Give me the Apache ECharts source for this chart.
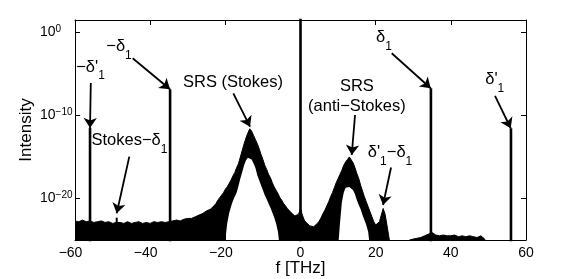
<!DOCTYPE html>
<html><head><meta charset="utf-8">
<script src="https://cdn.jsdelivr.net/npm/echarts@6/dist/echarts.min.js"></script>
<style>html,body{margin:0;padding:0;background:#fff}#c{width:581px;height:279px}</style>
</head><body><div id="c"></div>
<script>
const FONT = '"Liberation Sans", Arial, Helvetica, sans-serif';

// axis ticks
const xTicks = [-60, -40, -20, 0, 20, 40, 60];
const yTicks = [1e-20, 1e-10, 1];

// upper envelope of the (noisy, filled) spectrum
const envFreq = [-60,-59,-58,-57,-56,-55,-54,-53,-52,-51,-50,-49,-48,-47,-46,-45,-44,-43,-42,-41,-40,-39,-38,-37,-36,-35,-34,-33,-32,-31,-30,-29,-28,-27,-26,-25,-24,-23,-22.5,-22,-21.5,-21,-20.5,-20,-19.5,-19,-18.5,-18,-17.5,-17,-16.5,-16,-15.5,-15,-14.5,-14,-13.5,-13.3,-13,-12.5,-12,-11.5,-11,-10.5,-10,-9.5,-9,-8.5,-8,-7.5,-7,-6.5,-6,-5.5,-5,-4.5,-4,-3.5,-3,-2.5,-2,-1.5,-1,-0.5,0,0.5,1,1.5,2,2.5,3,3.5,4,4.5,5,5.5,6,6.5,7,7.5,8,8.5,9,9.5,10,10.5,11,11.5,12,12.5,13,13.4,14,14.5,15,15.5,16,16.5,17,17.5,18,18.5,19,19.5,20,20.5,21,21.5,22,22.5,23,23.5,24,28.5,29,30,31,32,33,34,35,35.5,36,37,38,39,40,41,42,43,44,45,46,47,48,49,49.5,60];
const envUpper = [2.0e-23,1.6e-23,2.5e-23,1.6e-23,2.0e-23,1.3e-23,1.6e-23,2.0e-23,1.3e-23,1.6e-23,1.0e-23,1.3e-23,1.3e-23,1.0e-23,1.6e-23,1.0e-23,1.3e-23,1.6e-23,1.0e-23,1.3e-23,1.0e-23,1.6e-23,1.3e-23,1.6e-23,1.3e-23,1.6e-23,2.0e-23,2.5e-23,2.0e-23,3.2e-23,4.0e-23,4.0e-23,6.3e-23,1.0e-22,1.6e-22,3.2e-22,5.0e-22,1.3e-21,2.5e-21,6.3e-21,1.0e-20,2.5e-20,5.0e-20,1.3e-19,2.5e-19,6.3e-19,1.6e-18,5.0e-18,1.3e-17,5.0e-17,1.6e-16,1.0e-15,6.3e-15,4.0e-14,2.0e-13,7.9e-13,2.5e-12,4.0e-12,1.3e-12,4.0e-13,1.3e-13,4.0e-14,1.0e-14,2.0e-15,5.0e-16,1.0e-16,3.2e-17,7.9e-18,3.2e-18,7.9e-19,2.5e-19,1.0e-19,4.0e-20,1.3e-20,6.3e-21,2.5e-21,1.3e-21,6.3e-22,4.0e-22,2.0e-22,1.3e-22,7.9e-23,6.3e-23,1.3e-22,6.3e-22,1.0e-22,2.5e-23,1.3e-23,7.9e-24,5.0e-24,5.0e-24,4.0e-24,6.3e-24,1.0e-23,2.0e-23,5.0e-23,1.6e-22,4.0e-22,1.3e-21,4.0e-21,1.6e-20,5.0e-20,2.0e-19,7.9e-19,2.5e-18,7.9e-18,2.5e-17,1.0e-16,2.5e-16,5.0e-16,1.0e-15,1.3e-15,2.0e-16,5.0e-17,1.0e-17,2.5e-18,4.0e-19,7.9e-20,1.6e-20,4.0e-21,1.0e-21,2.5e-22,6.3e-23,1.6e-23,6.3e-24,5.0e-24,1.6e-23,1.0e-22,6.3e-22,1.3e-22,6.3e-24,2.5e-25,1e-26,1e-26,1.0e-25,1.3e-25,1.6e-25,2.0e-25,3.2e-25,5.0e-25,7.9e-25,5.0e-25,4.0e-25,3.2e-25,4.0e-25,3.2e-25,3.2e-25,4.0e-25,2.5e-25,3.2e-25,2.5e-25,3.2e-25,2.5e-25,2.0e-25,3.2e-25,1.3e-25,1e-26,1e-26];

// lower envelope inside the two Raman lobes (the unfilled hollow)
const holeFreq = [-20.5,-20,-19.5,-19,-18.5,-18,-17.5,-17,-16.5,-16,-15.5,-15,-14.5,-14,-13.5,-13,-12.5,-12,-11.5,-11,-10.5,-10,-9.5,-9,-8.5,-8,-7.5,-7,-6.5,-6,-5.5,10,10.5,11,11.5,12,12.5,13,13.5,14,14.5,15,15.5,16,16.5,17,17.5,18,18.5];
const holeLower = [1e-26,1e-25,1e-23,1.6e-22,1e-21,5e-21,1.6e-20,5e-20,3.2e-19,2.5e-18,1.6e-17,1e-16,4e-16,7.9e-16,1e-15,5e-16,1.6e-16,5e-17,6.3e-18,1.6e-18,4e-19,1e-19,2.5e-20,7.9e-21,2.5e-21,7.9e-22,2e-22,5e-23,1e-23,1e-24,1e-26,1e-26,1e-23,3.2e-21,5e-20,2e-19,2.5e-19,2.5e-19,2e-19,1e-19,3.2e-20,6.3e-21,1.6e-21,5e-22,1e-22,2.5e-23,6.3e-24,1e-24,1e-26];

// narrow spectral lines
const lineFreq = [-56.0, -48.9, -34.7, 0, 34.7, 56.0];
const linePeak = [3.1e-12, 4.9e-23, 1.45e-7, 100, 1.9e-7, 2.9e-12];
const lineFloor = 1e-26;

// annotations: text, text centre [f, log10 I], arrow tail and tip [f, log10 I]
const annotText = ["{m|−δ'}{s|1}", "{m|−δ}{s|1}", "{m|Stokes−δ}{s|1}", "{m|SRS (Stokes)}", "{c|SRS}\n{c|(anti−Stokes)}", "{m|δ'}{s|1}{m|−δ}{s|1}", "{m|δ}{s|1}", "{m|δ'}{s|1}"];
const annotAt = [[-55.88,-4.16],[-48.29,-1.69],[-45.5,-13.0],[-17.96,-6.08],[15.0,-7.68],[23.82,-14.46],[22.22,-0.60],[51.68,-5.72]];
const arrowFrom = [[-55.8,-6.08],[-44.65,-3.11],[-45.55,-14.96],[-17.88,-7.33],[14.51,-9.94],[24.09,-16.27],[24.27,-2.51],[51.76,-7.65]];
const arrowTo = [[-56.0,-11.5],[-34.72,-6.84],[-48.9,-21.78],[-13.43,-11.35],[13.63,-14.76],[21.96,-20.78],[34.65,-6.72],[55.94,-11.54]];

const pairs = (xs, ys) => xs.map((x, i) => [x, ys[i]]);
const P = (a) => [a[0], Math.pow(10, a[1])];
const YMIN = 1e-25, YMAX = Math.pow(10, 1.5);

const chart = echarts.init(document.getElementById('c'), null, {renderer: 'canvas', width: 581, height: 279});

const tickStyle = {show: true, inside: true, length: 5, lineStyle: {color: '#000', width: 1}};
const lineAx = {show: true, onZero: false, lineStyle: {color: '#000', width: 1}};
const annRich = {
  m: {fontSize: 16.5, fontFamily: FONT, color: '#000'},
  s: {fontSize: 12, fontFamily: FONT, color: '#000', padding: [18, 0, 0, 0]},
  c: {fontSize: 16.5, fontFamily: FONT, color: '#000', lineHeight: 20.5, align: 'center'}
};

const series = [
  {type: 'line', data: pairs(envFreq, envUpper), symbol: 'none', silent: true,
   lineStyle: {color: '#000', width: 1}, areaStyle: {color: '#000', opacity: 1, origin: YMIN}, z: 2},
  {type: 'line', data: pairs(holeFreq, holeLower), symbol: 'none', silent: true,
   lineStyle: {width: 0, opacity: 0}, areaStyle: {color: '#fff', opacity: 1, origin: YMIN}, z: 3}
];
lineFreq.forEach((f, i) => {
  series.push({type: 'line', data: [[f, lineFloor], [f, linePeak[i]]], symbol: 'none', silent: true,
    lineStyle: {color: '#000', width: linePeak[i] < 1e-20 ? 2 : 2.6}, z: 4});
});
series.push({
  type: 'line', data: [], symbol: 'none', z: 6, silent: true,
  markLine: {
    silent: true, symbol: ['none', 'arrow'], symbolSize: 10,
    label: {show: false}, lineStyle: {color: '#000', width: 1.8, type: 'solid', opacity: 1},
    itemStyle: {color: '#000'},
    emphasis: {disabled: true}, animation: false,
    data: arrowFrom.map((a, i) => [{coord: P(a)}, {coord: P(arrowTo[i])}])
  },
  markPoint: {
    silent: true, symbol: 'circle', symbolSize: 0, animation: false,
    data: annotAt.map((a, i) => ({coord: P(a),
      label: {show: true, position: 'inside', formatter: annotText[i], rich: annRich, align: 'center', verticalAlign: 'middle'}}))
  }
});

const expLabel = (v) => {
  const e = Math.round(Math.log10(v));
  return '{b|10}{e|' + String(e).replace('-', '−') + '}';
};

chart.setOption({
  animation: false,
  backgroundColor: '#fff',
  grid: {left: 75, right: 55, top: 20, bottom: 39, containLabel: false, outerBoundsMode: 'none'},
  xAxis: [
    {type: 'value', position: 'bottom', min: xTicks[0], max: xTicks[xTicks.length - 1], interval: 20, z: 10,
     axisLine: lineAx, axisTick: tickStyle, splitLine: {show: false},
     axisLabel: {margin: 6, color: '#000', fontFamily: FONT, fontSize: 14,
       formatter: (v) => v < 0 ? '{n|−' + (-v) + '}' : '{p|' + v + '}',
       rich: {n: {fontSize: 14, fontFamily: FONT, color: '#000', padding: [0, 9, 0, 0]},
              p: {fontSize: 14, fontFamily: FONT, color: '#000'}}},
     name: 'f [THz]', nameLocation: 'middle', nameGap: 20, nameMoveOverlap: false,
     nameTextStyle: {fontSize: 17, fontFamily: FONT, color: '#000'}},
    {type: 'value', position: 'top', min: xTicks[0], max: xTicks[xTicks.length - 1], interval: 20, z: 10,
     axisLine: lineAx, axisTick: tickStyle, axisLabel: {show: false}, splitLine: {show: false}}
  ],
  yAxis: [
    {type: 'log', logBase: 10, position: 'left', min: YMIN, max: YMAX, z: 10,
     axisLine: lineAx, axisTick: Object.assign({customValues: yTicks}, tickStyle), splitLine: {show: false},
     minorTick: {show: false},
     axisLabel: {customValues: yTicks, align: 'left', margin: 35, color: '#000', formatter: expLabel,
       rich: {b: {fontSize: 14, fontFamily: FONT, color: '#000'},
              e: {fontSize: 10, fontFamily: FONT, color: '#000', padding: [0, 0, 7, 0]}}},
     name: 'Intensity', nameLocation: 'middle', nameGap: 40, nameMoveOverlap: false,
     nameTextStyle: {fontSize: 17, fontFamily: FONT, color: '#000'}},
    {type: 'log', logBase: 10, position: 'right', min: YMIN, max: YMAX, z: 10,
     axisLine: lineAx, axisTick: Object.assign({customValues: yTicks}, tickStyle), splitLine: {show: false},
     axisLabel: {show: false}}
  ],
  series: series
});
</script></body></html>
